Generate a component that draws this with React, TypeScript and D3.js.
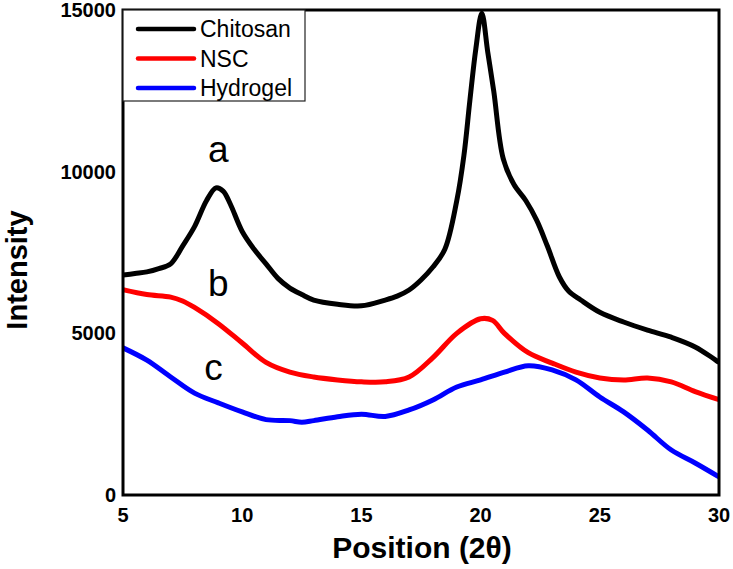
import React from "react";
import * as d3 from "d3";

const chitosanX = [5, 5.5, 6, 6.5, 7, 7.5, 8, 8.5, 8.9, 9.2, 9.5, 10, 10.5, 11, 11.5, 12, 12.5, 13, 14, 15, 16, 16.5, 17, 17.5, 18, 18.5, 19, 19.3, 19.55, 19.8, 20.05, 20.3, 20.55, 20.95, 21.4, 21.9, 22.35, 22.8, 23.3, 23.7, 24.2, 25, 26, 27, 28, 29, 30];
const chitosanY = [6800, 6850, 6900, 7000, 7150, 7700, 8300, 9100, 9500, 9400, 9000, 8150, 7600, 7150, 6700, 6400, 6200, 6030, 5900, 5850, 6030, 6150, 6340, 6650, 7050, 7600, 9100, 10500, 12200, 13800, 14900, 13700, 12500, 10400, 9600, 9100, 8500, 7700, 6750, 6300, 6030, 5650, 5350, 5100, 4880, 4580, 4100];

const nscX = [5, 6, 7, 7.5, 8, 9, 10, 11, 12, 13, 14, 15, 16, 17, 18, 19, 20, 20.5, 21, 22, 23, 24, 25, 26, 27, 28, 29, 30];
const nscY = [6350, 6200, 6120, 6000, 5800, 5300, 4700, 4100, 3800, 3650, 3560, 3500, 3500, 3650, 4250, 5000, 5450, 5400, 5000, 4400, 4080, 3800, 3620, 3560, 3620, 3500, 3200, 2950];

const hydrogelX = [5, 6, 7, 8, 9, 10, 11, 12, 12.5, 13, 14, 15, 16, 17, 18, 19, 20, 21, 22, 23, 24, 25, 26, 27, 28, 29, 30];
const hydrogelY = [4550, 4170, 3650, 3150, 2850, 2570, 2330, 2300, 2250, 2300, 2420, 2500, 2430, 2630, 2940, 3340, 3560, 3800, 4000, 3870, 3560, 3030, 2570, 2010, 1390, 990, 560];

const xTicks = [5, 10, 15, 20, 25, 30];
const yTicks = [0, 5000, 10000, 15000];

const seriesNames = ["Chitosan", "NSC", "Hydrogel"];
const seriesColors = ["#000000", "#ff0000", "#0000ff"];
const curveLabels = [
  { t: "a", x: 9.0, y: 10300 },
  { t: "b", x: 9.0, y: 6150 },
  { t: "c", x: 8.8, y: 3550 },
];

export default function App() {
  const W = 733, H = 569;
  const left = 123, right = 719, top = 10, bottom = 495;
  const x = d3.scaleLinear().domain([5, 30]).range([left, right]);
  const y = d3.scaleLinear().domain([0, 15000]).range([bottom, top]);
  const line = d3
    .line<[number, number]>()
    .x((d) => x(d[0]))
    .y((d) => y(d[1]))
    .curve(d3.curveCatmullRom.alpha(0.5));
  const series = [
    d3.zip(chitosanX, chitosanY) as [number, number][],
    d3.zip(nscX, nscY) as [number, number][],
    d3.zip(hydrogelX, hydrogelY) as [number, number][],
  ];
  const font = "'Liberation Sans', Arial, sans-serif";
  return (
    <svg width={W} height={H} style={{ position: "absolute", left: 0, top: 0, background: "#fff" }} fontFamily={font}>
      <defs>
        <clipPath id="plot">
          <rect x={left} y={top} width={right - left} height={bottom - top} />
        </clipPath>
      </defs>
      <g clipPath="url(#plot)">
        {series.map((s, i) => (
          <path key={i} d={line(s) || ""} fill="none" stroke={seriesColors[i]} strokeWidth={5} strokeLinejoin="round" />
        ))}
      </g>
      <rect x={left} y={top} width={right - left} height={bottom - top} fill="none" stroke="#000" strokeWidth={3} />
      {/* legend */}
      <rect x={left} y={top} width={182} height={91} fill="#fff" stroke="#222" strokeWidth={1.2} />
      {seriesNames.map((n, i) => (
        <g key={n}>
          <line x1={138} x2={194} y1={29 + i * 29.5} y2={29 + i * 29.5} stroke={seriesColors[i]} strokeWidth={4.5} strokeLinecap="round" />
          <text x={200} y={29 + i * 29.5 + 8} fontSize={23} fill="#000">{n}</text>
        </g>
      ))}
      {curveLabels.map((c) => (
        <text key={c.t} x={x(c.x)} y={y(c.y)} fontSize={37} textAnchor="middle" fill="#000">{c.t}</text>
      ))}
      {/* ticks */}
      {xTicks.map((t) => (
        <text key={t} x={x(t)} y={522} fontSize={20} fontWeight="bold" textAnchor="middle">{t}</text>
      ))}
      {yTicks.map((t) => (
        <text key={t} x={116} y={y(t) + 7} fontSize={20} fontWeight="bold" textAnchor="end">{t}</text>
      ))}
      <text x={(left + right) / 2 + 1} y={558} fontSize={30} fontWeight="bold" textAnchor="middle">Position (2θ)</text>
      <text transform={`translate(27,270) rotate(-90)`} fontSize={29} fontWeight="bold" textAnchor="middle">Intensity</text>
    </svg>
  );
}
